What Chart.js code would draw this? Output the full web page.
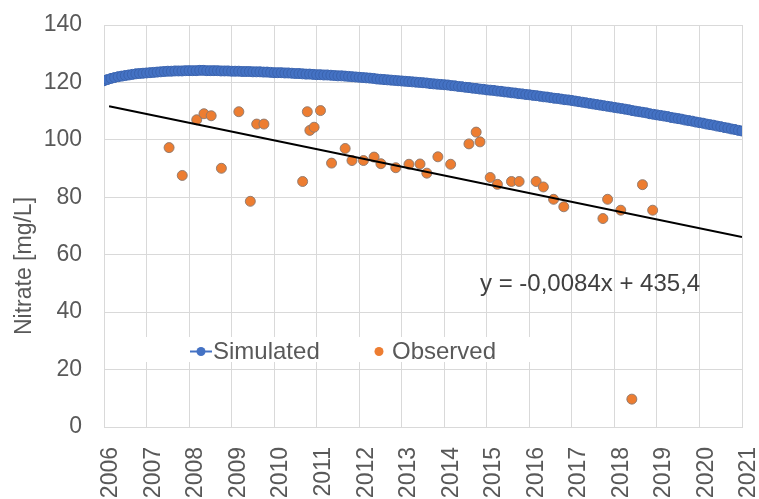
<!DOCTYPE html>
<html>
<head>
<meta charset="utf-8">
<script src="https://cdn.jsdelivr.net/npm/chart.js@4.4.1/dist/chart.umd.min.js"></script>
<style>
  body { margin: 0; background: #fff; }
  #wrap { width: 759px; height: 499px; }
</style>
</head>
<body>
<div id="wrap"><canvas id="myChart"></canvas></div>
<script>
// simulated nitrate, one value per month from Jan 2006 to Jan 2021
const simValues = [
    120.6, 121.0, 121.4, 121.7, 122.0, 122.2, 122.4, 122.6, 122.8, 123.0, 123.1, 123.2,
    123.3, 123.4, 123.5, 123.6, 123.7, 123.8, 123.9, 123.9, 124.0, 124.0, 124.0, 124.1,
    124.1, 124.1, 124.1, 124.2, 124.2, 124.1, 124.1, 124.1, 124.1, 124.0, 124.0, 124.0,
    123.9, 123.9, 123.9, 123.8, 123.8, 123.8, 123.7, 123.7, 123.7, 123.6, 123.6, 123.5,
    123.4, 123.4, 123.4, 123.3, 123.3, 123.2, 123.1, 123.1, 123.0, 122.9, 122.9, 122.8,
    122.7, 122.7, 122.6, 122.6, 122.5, 122.4, 122.3, 122.3, 122.2, 122.1, 122.0, 121.9,
    121.8, 121.7, 121.6, 121.5, 121.4, 121.2, 121.1, 121.0, 120.9, 120.8, 120.7, 120.6,
    120.5, 120.4, 120.3, 120.2, 120.1, 120.0, 119.9, 119.8, 119.6, 119.5, 119.4, 119.3,
    119.2, 119.1, 118.9, 118.8, 118.6, 118.5, 118.3, 118.2, 118.0, 117.9, 117.7, 117.6,
    117.4, 117.3, 117.2, 117.0, 116.9, 116.7, 116.6, 116.4, 116.3, 116.1, 116.0, 115.8,
    115.7, 115.5, 115.4, 115.2, 115.0, 114.9, 114.7, 114.5, 114.4, 114.2, 114.0, 113.9,
    113.7, 113.5, 113.3, 113.1, 112.9, 112.7, 112.5, 112.3, 112.1, 111.9, 111.7, 111.5,
    111.3, 111.1, 110.9, 110.7, 110.5, 110.2, 110.0, 109.8, 109.6, 109.4, 109.1, 108.9,
    108.7, 108.5, 108.3, 108.1, 107.8, 107.6, 107.4, 107.2, 106.9, 106.7, 106.5, 106.2,
    106.0, 105.8, 105.5, 105.3, 105.1, 104.8, 104.6, 104.3, 104.1, 103.8, 103.6, 103.3,
    103.1
];
const simStartYear = 2006;

// observed samples (decimal year, mg/L)
const obsYears = [
    2007.53, 2007.84, 2008.18, 2008.35, 2008.52, 2008.76, 2009.17, 2009.44, 2009.59, 2009.76,
    2010.67, 2010.78, 2010.84, 2010.94, 2011.09, 2011.35, 2011.67, 2011.83, 2012.10, 2012.35,
    2012.51, 2012.86, 2013.17, 2013.43, 2013.59, 2013.85, 2014.15, 2014.58, 2014.75, 2014.84,
    2015.08, 2015.25, 2015.58, 2015.76, 2016.16, 2016.33, 2016.57, 2016.81, 2017.73, 2017.84,
    2018.15, 2018.41, 2018.66, 2018.90
];
const obsValues = [
    97.3, 87.6, 107.0, 109.1, 108.4, 90.1, 109.8, 78.6, 105.5, 105.5,
    85.5, 109.8, 103.3, 104.4, 110.2, 91.9, 97.0, 92.8, 92.8, 94.0,
    91.7, 90.3, 91.5, 91.6, 88.4, 94.1, 91.5, 98.6, 102.7, 99.3,
    86.9, 84.5, 85.5, 85.5, 85.5, 83.6, 79.3, 76.7, 72.6, 79.3,
    75.5, 9.7, 84.4, 75.5
];

// linear trend of observed, ends
const trendYears = [2006.12, 2021.0];
const trendValues = [111.7, 66.2];
const trendLabel = 'y = -0,0084x + 435,4';

const seriesNames = ['Simulated', 'Observed'];
const yTicks = { min: 0, max: 140, step: 20 };
const xTicks = { min: 2006, max: 2021, step: 1 };

const FONT = "'Liberation Sans', Arial, sans-serif";
const GREY = '#595959';
const BLUE = '#4472C4';
const ORANGE = '#ED7D31';

const simPoints = simValues.map((v, i) => ({ x: simStartYear + i / 12, y: v }));
const obsPoints = obsYears.map((yr, i) => ({ x: yr, y: obsValues[i] }));
const trendPoints = trendYears.map((yr, i) => ({ x: yr, y: trendValues[i] }));

// legend box, equation and axis title drawn by hand like in Excel
const extras = {
    id: 'extras',
    beforeDatasetsDraw(chart) {
        const ctx = chart.ctx;
        ctx.save();
        ctx.fillStyle = '#fff';
        ctx.fillRect(138, 337, 397, 25);

        ctx.font = `24px ${FONT}`;
        ctx.textBaseline = 'middle';
        ctx.fillStyle = GREY;

        // simulated entry
        ctx.strokeStyle = BLUE;
        ctx.lineWidth = 2;
        ctx.beginPath();
        ctx.moveTo(190, 351.5);
        ctx.lineTo(212, 351.5);
        ctx.stroke();
        ctx.fillStyle = BLUE;
        ctx.beginPath();
        ctx.arc(201, 351.5, 4.5, 0, Math.PI * 2);
        ctx.fill();
        ctx.fillStyle = GREY;
        ctx.textAlign = 'left';
        ctx.fillText(seriesNames[0], 213, 352);

        // observed entry
        ctx.fillStyle = ORANGE;
        ctx.beginPath();
        ctx.arc(379, 351.5, 4.5, 0, Math.PI * 2);
        ctx.fill();
        ctx.fillStyle = GREY;
        ctx.fillText(seriesNames[1], 392, 352);

        // trend equation
        ctx.fillStyle = '#404040';
        ctx.fillText(trendLabel, 480, 284);

        // y axis title
        ctx.translate(25, 266);
        ctx.rotate(-Math.PI / 2);
        ctx.textAlign = 'center';
        ctx.fillStyle = GREY;
        ctx.font = `23px ${FONT}`;
        ctx.fillText('Nitrate [mg/L]', 0, 0);
        ctx.restore();
    }
};

const ctx = document.getElementById('myChart').getContext('2d');
new Chart(ctx, {
    type: 'scatter',
    data: {
        datasets: [
            {
                label: 'trend',
                data: trendPoints,
                showLine: true,
                borderColor: '#000',
                borderWidth: 2,
                pointRadius: 0,
            },
            {
                label: seriesNames[0],
                data: simPoints,
                backgroundColor: BLUE,
                borderColor: '#3a63ae',
                borderWidth: 1,
                pointRadius: 5,
            },
            {
                label: seriesNames[1],
                data: obsPoints,
                backgroundColor: ORANGE,
                borderColor: 'rgba(140,120,110,0.9)',
                borderWidth: 1,
                pointRadius: 5,
            },
        ],
    },
    options: {
        responsive: true,
        maintainAspectRatio: false,
        animation: false,
        layout: { padding: { top: 25, right: 17, left: 0, bottom: 0 } },
        plugins: {
            legend: { display: false },
            tooltip: { enabled: false },
        },
        scales: {
            x: {
                type: 'linear',
                min: xTicks.min,
                max: xTicks.max,
                afterFit: (scale) => {
                    scale.height = 72;
                    scale.paddingLeft = 0;
                    scale.paddingRight = 0;
                },
                grid: { color: '#d9d9d9', drawTicks: false },
                border: { color: '#d9d9d9' },
                ticks: {
                    stepSize: xTicks.step,
                    minRotation: 90,
                    maxRotation: 90,
                    padding: 20,
                    labelOffset: 7,
                    color: GREY,
                    font: { family: FONT, size: 23 },
                    callback: (value) => String(value),
                },
            },
            y: {
                min: yTicks.min,
                max: yTicks.max,
                afterFit: (scale) => {
                    scale.width = 104;
                    scale.paddingTop = 0;
                    scale.paddingBottom = 0;
                },
                grid: { color: '#d9d9d9', drawTicks: false },
                border: { display: false },
                ticks: {
                    stepSize: yTicks.step,
                    padding: 22,
                    color: GREY,
                    font: { family: FONT, size: 23 },
                },
            },
        },
    },
    plugins: [extras],
});
</script>
</body>
</html>
